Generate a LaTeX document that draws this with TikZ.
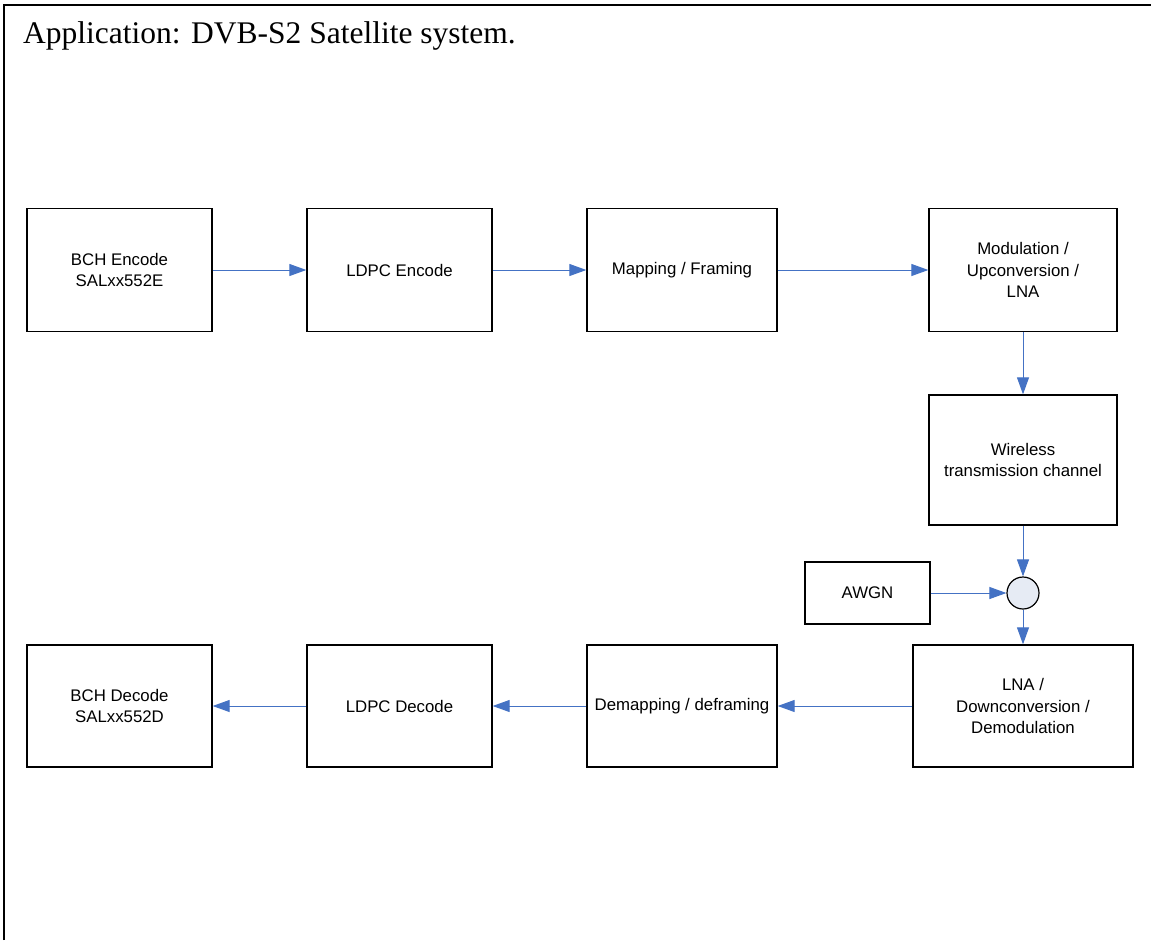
\documentclass[tikz,border=0pt]{standalone}
\usepackage{fontspec}
\setmainfont{Liberation Serif}
\newfontfamily\boxfont{Liberation Sans}
\usetikzlibrary{arrows.meta}
\definecolor{flowblue}{HTML}{4472C4}
\definecolor{sumfill}{HTML}{E6EBF4}
\tikzset{x=1pt, y=-1pt,
    block/.style={draw, line width=1.3pt, minimum width=185pt, minimum height=123pt,
        align=center, font=\boxfont\fontsize{16.8}{21.5}\selectfont, inner sep=2pt},
    flow/.style={draw=flowblue, line width=1pt,
        -{Triangle[length=17pt, width=12pt, fill=flowblue]}},
    }
\begin{document}
\begin{tikzpicture}
	\useasboundingbox (0,0) rectangle (1151,940);
	% frame
	\draw[line width=2.5pt] (4,940) -- (4,5) -- (1151,5);
	\node[anchor=base west, inner sep=0pt, font=\fontsize{31.5}{38}\selectfont] (title) at (23,43)
		{Application: DVB-S2 Satellite system.};
	% transmit chain
	\node[block] (bchenc) at (119.5,270) {BCH Encode\\SALxx552E};
	\node[block] (ldpcenc) at (399.5,270) {LDPC Encode};
	\node[block, minimum width=190pt] (mapping) at (682,270) {Mapping / Framing};
	\node[block, minimum width=188pt] (modul) at (1023,270) {Modulation /\\Upconversion /\\LNA};
	% channel
	\node[block, minimum width=188pt, minimum height=130pt] (channel) at (1023,460)
		{Wireless\\transmission channel};
	\node[block, minimum width=125pt, minimum height=62pt] (awgn) at (867.5,593) {AWGN};
	\node[circle, draw, line width=1.2pt, fill=sumfill, minimum size=32pt, inner sep=0pt] (sum) at (1023,593) {};
	% receive chain
	\node[block, minimum width=220pt, minimum height=122pt] (lna) at (1023,706)
		{LNA /\\Downconversion /\\Demodulation};
	\node[block, minimum width=190pt, minimum height=122pt] (demap) at (682,706) {Demapping / deframing};
	\node[block, minimum height=122pt] (ldpcdec) at (399.5,706) {LDPC Decode};
	\node[block, minimum height=122pt] (bchdec) at (119.5,706) {BCH Decode\\SALxx552D};
	% connections
	\draw[flow] (bchenc) -- (ldpcenc);
	\draw[flow] (ldpcenc) -- (mapping);
	\draw[flow] (mapping) -- (modul);
	\draw[flow] (modul) -- (channel);
	\draw[flow] (channel) -- (sum);
	\draw[flow] (awgn) -- (sum);
	\draw[flow] (sum) -- (lna);
	\draw[flow] (lna) -- (demap);
	\draw[flow] (demap) -- (ldpcdec);
	\draw[flow] (ldpcdec) -- (bchdec);
\end{tikzpicture}
\end{document}
